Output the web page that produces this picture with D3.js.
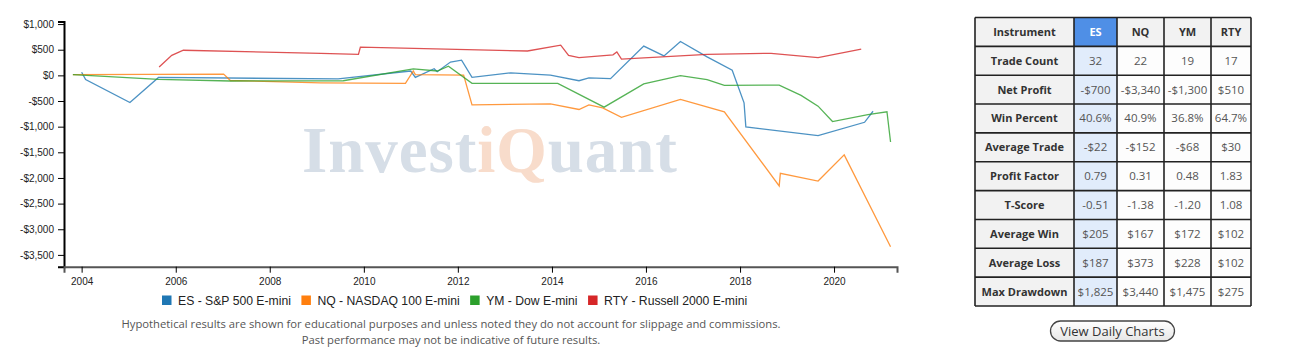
<!DOCTYPE html>
<html>
<head>
<meta charset="utf-8">
<script src="https://cdn.jsdelivr.net/npm/d3@7"></script>
<style>
body { margin: 0; background: #fff; }
svg text { font-family: "Liberation Sans", Arial, sans-serif; }
</style>
</head>
<body>
<div id="page"></div>
<script>
// series
const seriesNames = ["ES - S&P 500 E-mini", "NQ - NASDAQ 100 E-mini", "YM - Dow E-mini", "RTY - Russell 2000 E-mini"];
const seriesColors = ["#1f77b4", "#ff7f0e", "#2ca02c", "#d62728"];

const esDates = ["2004-01-01", "2004-02-01", "2005-01-10", "2005-08-20", "2009-06-15", "2010-12-31", "2011-02-05", "2011-07-01", "2011-07-25", "2011-11-05", "2012-01-30", "2012-04-20", "2013-02-15", "2013-12-20", "2014-07-30", "2014-10-15", "2015-04-01", "2015-12-15", "2016-05-20", "2016-09-25", "2017-04-20", "2017-11-01", "2018-02-01", "2018-02-15", "2019-08-30", "2020-08-25", "2020-10-30"];
const esValues = [60, -80, -530, -40, -70, 85, -40, 130, 70, 260, 295, -40, 50, 5, -105, -50, -65, 570, 380, 660, 360, 100, -535, -1005, -1175, -915, -700];

const nqDates = ["2003-10-25", "2007-01-08", "2007-03-01", "2009-01-30", "2010-11-20", "2011-01-20", "2011-02-05", "2012-02-15", "2012-04-20", "2013-12-20", "2014-07-30", "2014-10-15", "2015-01-30", "2015-06-25", "2016-09-25", "2017-09-01", "2018-11-01", "2018-11-10", "2019-08-30", "2020-03-20", "2021-03-15"];
const nqValues = [15, 25, -100, -145, -155, 85, 15, 5, -575, -555, -665, -575, -635, -820, -470, -710, -2155, -1910, -2060, -1550, -3340];

const ymDates = ["2003-10-25", "2005-08-20", "2007-03-01", "2009-07-25", "2011-01-20", "2011-07-25", "2011-10-20", "2012-04-20", "2014-02-15", "2015-02-10", "2015-12-15", "2016-09-25", "2017-04-20", "2017-09-01", "2018-11-01", "2019-04-20", "2019-08-30", "2019-12-20", "2020-09-20", "2021-02-15", "2021-03-15"];
const ymValues = [15, -80, -110, -105, 125, 85, 180, -155, -155, -620, -165, -5, -85, -195, -190, -390, -600, -900, -765, -710, -1300];

const rtyDates = ["2005-08-25", "2005-12-01", "2006-03-01", "2009-02-01", "2009-11-20", "2009-12-05", "2013-06-25", "2014-03-10", "2014-05-10", "2014-07-30", "2015-04-20", "2015-05-20", "2015-06-25", "2017-04-20", "2018-08-30", "2019-08-30", "2020-07-30"];
const rtyValues = [165, 390, 490, 430, 410, 550, 475, 590, 390, 345, 400, 455, 315, 410, 430, 345, 510];

// table
const instruments = ["ES", "NQ", "YM", "RTY"];
const statLabels = ["Trade Count", "Net Profit", "Win Percent", "Average Trade", "Profit Factor", "T-Score", "Average Win", "Average Loss", "Max Drawdown"];
const statValues = [
    ["32", "22", "19", "17"],
    ["-$700", "-$3,340", "-$1,300", "$510"],
    ["40.6%", "40.9%", "36.8%", "64.7%"],
    ["-$22", "-$152", "-$68", "$30"],
    ["0.79", "0.31", "0.48", "1.83"],
    ["-0.51", "-1.38", "-1.20", "1.08"],
    ["$205", "$167", "$172", "$102"],
    ["$187", "$373", "$228", "$102"],
    ["$1,825", "$3,440", "$1,475", "$275"]
];

const footerLines = [
    "Hypothetical results are shown for educational purposes and unless noted they do not account for slippage and commissions.",
    "Past performance may not be indicative of future results."
];

const width = 1294, height = 351;
const plotLeft = 64, plotRight = 897, plotTop = 21.5, plotBottom = 266.7;

const parseDate = d3.timeParse("%Y-%m-%d");
const toPoints = (dates, values) => dates.map((d, i) => ({ date: parseDate(d), value: values[i] }));
const series = [
    toPoints(esDates, esValues),
    toPoints(nqDates, nqValues),
    toPoints(ymDates, ymValues),
    toPoints(rtyDates, rtyValues)
];

const svg = d3.select("#page").append("svg")
    .attr("width", width)
    .attr("height", height);

const xScale = d3.scaleTime()
    .domain([parseDate("2003-08-17"), parseDate("2021-05-04")])
    .range([plotLeft, plotRight]);
const yScale = d3.scaleLinear()
    .domain([-3730, 1050])
    .range([plotBottom, plotTop]);

// watermark
const mark = svg.append("text")
    .attr("x", 302)
    .attr("y", 172)
    .attr("textLength", 375)
    .attr("lengthAdjust", "spacing")
    .style("font-family", "'Liberation Serif', 'DejaVu Serif', serif")
    .style("font-weight", "bold")
    .style("font-size", "65px");
mark.append("tspan").attr("fill", "#d6dee7").text("Invest");
mark.append("tspan").attr("fill", "#f8dccb").text("iQ");
mark.append("tspan").attr("fill", "#d6dee7").text("uant");

// axes
const money = (d) => (d < 0 ? "-" : "") + "$" + d3.format(",")(Math.abs(d));

const yAxis = svg.append("g")
    .attr("class", "yAxis")
    .attr("transform", "translate(" + plotLeft + ",0)")
    .call(d3.axisLeft(yScale).tickValues(d3.range(-3500, 1001, 500)).tickFormat(money).tickSizeOuter(6).tickPadding(4));
yAxis.select(".domain").attr("stroke", "#000").attr("stroke-width", 2);
yAxis.selectAll(".tick line").attr("stroke", "#000");
yAxis.selectAll("text").attr("font-size", 10).attr("fill", "#222").style("font-family", "'Liberation Sans', Arial, sans-serif");

const xAxis = svg.append("g")
    .attr("class", "xAxis")
    .attr("transform", "translate(0," + plotBottom + ")")
    .call(d3.axisBottom(xScale).ticks(d3.timeYear.every(2)).tickFormat(d3.timeFormat("%Y")).tickSizeOuter(6).tickPadding(5));
xAxis.select(".domain").attr("stroke", "#555").attr("stroke-width", 2);
xAxis.selectAll(".tick line").attr("stroke", "#000");
xAxis.selectAll("text").attr("font-size", 10).attr("fill", "#222").style("font-family", "'Liberation Sans', Arial, sans-serif");

// lines
const line = d3.line()
    .x((d) => xScale(d.date))
    .y((d) => yScale(d.value));

svg.append("g")
    .selectAll("path")
    .data(series)
    .enter().append("path")
    .attr("d", line)
    .attr("fill", "none")
    .attr("stroke", (d, i) => seriesColors[i])
    .attr("stroke-width", 1.3)
    .attr("stroke-opacity", 0.8);

// legend
const legend = svg.append("g").attr("transform", "translate(162,295)");
let lx = 0;
seriesNames.forEach((name, i) => {
    const item = legend.append("g").attr("transform", "translate(" + lx + ",0)");
    item.append("rect")
        .attr("y", 0.5)
        .attr("width", 9.5)
        .attr("height", 9.5)
        .attr("fill", seriesColors[i]);
    const t = item.append("text")
        .attr("x", 16)
        .attr("y", 10)
        .attr("font-size", "12.2px")
        .attr("fill", "#222")
        .text(name);
    lx += 16 + t.node().getComputedTextLength() + 10.5;
});

// footer
svg.append("g")
    .selectAll("text")
    .data(footerLines)
    .enter().append("text")
    .attr("x", 451)
    .attr("y", (d, i) => 328 + i * 16)
    .attr("text-anchor", "middle")
    .attr("font-size", "11.25px")
    .attr("fill", "#555")
    .style("font-family", "'Open Sans', sans-serif")
    .text((d) => d);

// stats table
const colEdges = [975, 1074, 1117, 1164, 1211, 1251];
const rowTop = 17.5, rowH = 28.85;
const table = svg.append("g").attr("class", "stats");
const rows = [["Instrument"].concat(instruments)].concat(statLabels.map((l, i) => [l].concat(statValues[i])));

rows.forEach((row, r) => {
    row.forEach((cell, c) => {
        const x0 = colEdges[c], x1 = colEdges[c + 1];
        const y0 = rowTop + r * rowH;
        let fill = c === 0 || r === 0 ? "#f2f2f2" : "#fdfdfd";
        if (c === 1) fill = r === 0 ? "#4f8fe6" : "#e1ecfb";
        table.append("rect")
            .attr("x", x0)
            .attr("y", y0)
            .attr("width", x1 - x0)
            .attr("height", rowH)
            .attr("fill", fill);
        table.append("text")
            .attr("x", (x0 + x1) / 2)
            .attr("y", y0 + rowH / 2 + 4)
            .attr("text-anchor", "middle")
            .attr("font-size", c === 0 || r === 0 ? "11px" : "11.5px")
            .attr("font-weight", c === 0 || r === 0 ? "bold" : "normal")
            .attr("fill", r === 0 && c === 1 ? "#fff" : (c === 0 || r === 0 ? "#333" : "#555"))
            .style("font-family", "'Open Sans', sans-serif")
            .text(cell);
    });
});
colEdges.forEach((x) => {
    table.append("line")
        .attr("x1", x).attr("x2", x)
        .attr("y1", rowTop).attr("y2", rowTop + rows.length * rowH)
        .attr("stroke", "#222").attr("stroke-width", 1.6);
});
d3.range(rows.length + 1).forEach((r) => {
    table.append("line")
        .attr("x1", colEdges[0]).attr("x2", colEdges[colEdges.length - 1])
        .attr("y1", rowTop + r * rowH).attr("y2", rowTop + r * rowH)
        .attr("stroke", "#222").attr("stroke-width", 1.6);
});

// button
const grad = svg.append("defs").append("linearGradient")
    .attr("id", "btn").attr("x1", 0).attr("x2", 0).attr("y1", 0).attr("y2", 1);
grad.append("stop").attr("offset", "0%").attr("stop-color", "#ffffff");
grad.append("stop").attr("offset", "100%").attr("stop-color", "#e6e6e6");
svg.append("rect")
    .attr("x", 1050.5).attr("y", 321)
    .attr("width", 124).attr("height", 20)
    .attr("rx", 10)
    .attr("fill", "url(#btn)")
    .attr("stroke", "#444")
    .attr("stroke-width", 1.3);
svg.append("text")
    .attr("x", 1112.5).attr("y", 335.5)
    .attr("text-anchor", "middle")
    .attr("font-size", "13px")
    .attr("fill", "#333")
    .style("font-family", "'Open Sans', sans-serif")
    .text("View Daily Charts");
</script>
</body>
</html>
